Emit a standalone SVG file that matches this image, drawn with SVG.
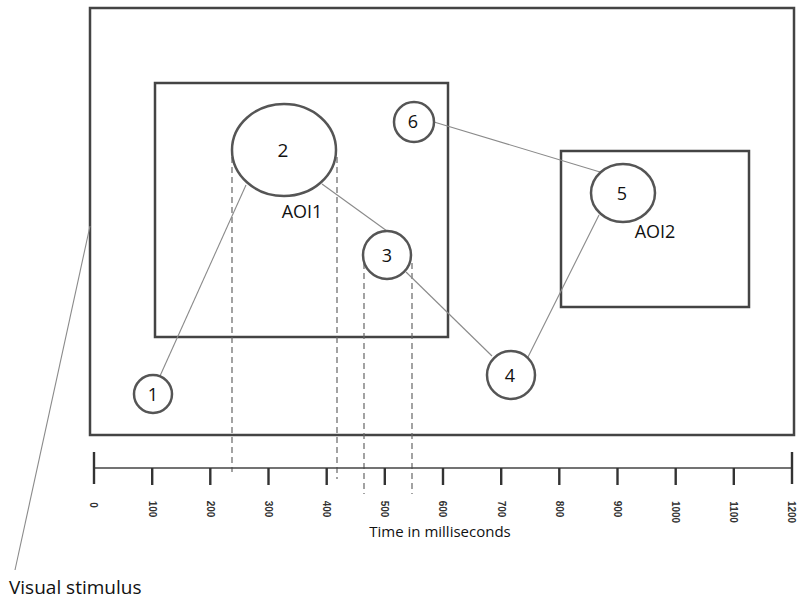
<svg xmlns="http://www.w3.org/2000/svg" width="802" height="599" viewBox="0 0 802 599">
<style>
.box{fill:none;stroke:#444;stroke-width:2.5}
.fix{fill:#fff;stroke:#555;stroke-width:2.5}
.con{stroke:#8a8a8a;stroke-width:1.1;fill:none}
.dash{stroke:#666;stroke-width:1.2;stroke-dasharray:6,4;fill:none}
.axis{stroke:#444;stroke-width:1.6}
.tick{stroke:#333;stroke-width:2.4}
.lbl{font-family:"Open Sans","Liberation Sans",sans-serif;fill:#111;text-anchor:middle}
.num{font-family:"Liberation Sans Narrow","Liberation Sans",sans-serif;font-weight:bold;font-size:10px;fill:#333;text-anchor:middle}
</style>
<rect width="802" height="599" fill="#fff"/>
<g id="stimulus"><rect class="box" x="90" y="8" width="704" height="427"/></g>
<g id="aoi1"><rect class="box" x="155" y="83" width="293" height="254"/></g>
<g id="aoi2"><rect class="box" x="561" y="151" width="188" height="156"/></g>
<g id="dashes">
<line class="dash" x1="232" y1="157" x2="232" y2="472"/>
<line class="dash" x1="337" y1="157" x2="337" y2="479"/>
<line class="dash" x1="364" y1="263" x2="364" y2="494"/>
<line class="dash" x1="412" y1="263" x2="412" y2="494"/>
</g>
<g id="connectors">
<line class="con" x1="160" y1="376" x2="246" y2="185"/>
<line class="con" x1="322" y1="184" x2="387" y2="231"/>
<line class="con" x1="406" y1="272" x2="492" y2="356"/>
<line class="con" x1="528" y1="357" x2="599" y2="215"/>
<line class="con" x1="434" y1="122" x2="600" y2="172"/>
<line class="con" x1="90" y1="226" x2="15" y2="570"/>
</g>
<g id="f1"><circle class="fix" cx="153" cy="394" r="19"/><text class="lbl" x="153" y="401" font-size="18">1</text></g>
<g id="f2"><ellipse class="fix" cx="284" cy="150" rx="52" ry="46"/><text class="lbl" x="283" y="157" font-size="19">2</text></g>
<g id="f3"><circle class="fix" cx="387" cy="255" r="24"/><text class="lbl" x="387" y="262" font-size="18">3</text></g>
<g id="f4"><circle class="fix" cx="511" cy="375" r="24"/><text class="lbl" x="510" y="382" font-size="18">4</text></g>
<g id="f5"><ellipse class="fix" cx="623" cy="193" rx="32" ry="29"/><text class="lbl" x="622" y="200" font-size="18">5</text></g>
<g id="f6"><circle class="fix" cx="414" cy="122" r="20"/><text class="lbl" x="413" y="128" font-size="18">6</text></g>
<text class="lbl" x="302" y="218" font-size="18">AOI1</text>
<text class="lbl" x="655" y="238" font-size="18">AOI2</text>
<g id="axis">
<line class="axis" x1="94" y1="468" x2="792" y2="468"/>
<line class="tick" x1="94" y1="452" x2="94" y2="484"/>
<line class="tick" x1="792" y1="452" x2="792" y2="484"/>
<g class="tick">
<line x1="152.2" y1="468" x2="152.2" y2="485"/>
<line x1="210.3" y1="468" x2="210.3" y2="485"/>
<line x1="268.5" y1="468" x2="268.5" y2="485"/>
<line x1="326.7" y1="468" x2="326.7" y2="485"/>
<line x1="384.8" y1="468" x2="384.8" y2="485"/>
<line x1="443" y1="468" x2="443" y2="485"/>
<line x1="501.2" y1="468" x2="501.2" y2="485"/>
<line x1="559.3" y1="468" x2="559.3" y2="485"/>
<line x1="617.5" y1="468" x2="617.5" y2="485"/>
<line x1="675.7" y1="468" x2="675.7" y2="485"/>
<line x1="733.8" y1="468" x2="733.8" y2="485"/>
</g>
<text class="num" transform="translate(90,505) rotate(90)">0</text>
<text class="num" transform="translate(148.5,509) rotate(90)">100</text>
<text class="num" transform="translate(206.5,509) rotate(90)">200</text>
<text class="num" transform="translate(264.5,509) rotate(90)">300</text>
<text class="num" transform="translate(322.5,509) rotate(90)">400</text>
<text class="num" transform="translate(381,509) rotate(90)">500</text>
<text class="num" transform="translate(439,509) rotate(90)">600</text>
<text class="num" transform="translate(497.5,509) rotate(90)">700</text>
<text class="num" transform="translate(555.5,509) rotate(90)">800</text>
<text class="num" transform="translate(613.5,509) rotate(90)">900</text>
<text class="num" transform="translate(672,512) rotate(90)">1000</text>
<text class="num" transform="translate(730,512) rotate(90)">1100</text>
<text class="num" transform="translate(788,512) rotate(90)">1200</text>
<text class="lbl" x="440" y="537" font-size="15">Time in milliseconds</text>
</g>
<text x="9" y="594" font-family="Open Sans, Liberation Sans, sans-serif" font-size="19" fill="#111">Visual stimulus</text>
</svg>
